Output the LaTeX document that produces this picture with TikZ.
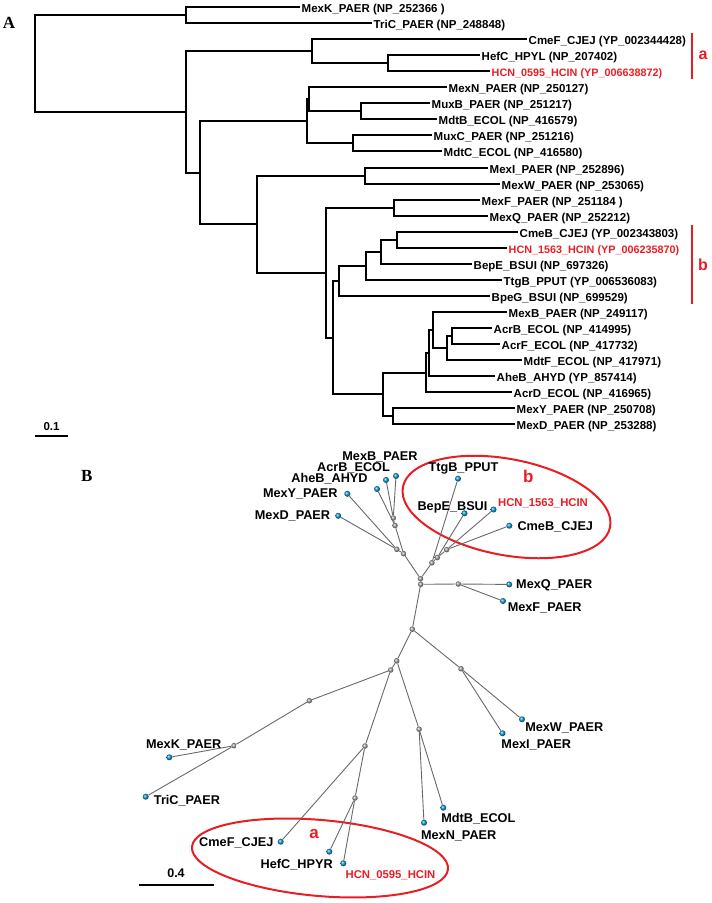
\documentclass[tikz,border=0pt]{standalone}
\usepackage{fontspec}
\setmainfont{Liberation Sans}
\newfontfamily\serifb{Liberation Serif}
\definecolor{redlbl}{RGB}{232,30,36}
\definecolor{blueball}{RGB}{10,150,210}
\definecolor{edgegray}{RGB}{105,105,105}
\begin{document}
\begin{tikzpicture}[x=1pt,y=-1pt,
 tree/.style={line width=2pt},
 lab/.style={anchor=west, inner sep=1.5pt, font=\fontsize{11.5}{13}\selectfont\bfseries, text height=11pt, text depth=0pt},
 labred/.style={lab, text=redlbl, font=\fontsize{10.8}{13}\selectfont\bfseries},
 blab/.style={inner sep=0pt, font=\fontsize{12.7}{14}\selectfont\bfseries, text height=9.1pt, text depth=0pt},
 blabred/.style={blab, text=redlbl, font=\fontsize{11.3}{14}\selectfont\bfseries},
 leafball/.style={circle, inner sep=0pt, minimum size=6pt, ball color=blueball},
 intball/.style={circle, inner sep=0pt, minimum size=5.5pt, ball color=gray!75},
 bedge/.style={draw=edgegray, line width=0.9pt},
 panel/.style={font=\serifb\fontsize{17}{17}\selectfont\bfseries, inner sep=0pt},
 grp/.style={text=redlbl, font=\fontsize{16}{16}\selectfont\bfseries, inner sep=0pt},
 bracket/.style={draw=redlbl, line width=2pt},
 oval/.style={draw=redlbl, line width=2pt},
 sbar/.style={line width=2pt},
 sbtext/.style={font=\fontsize{11.5}{12}\selectfont\bfseries, inner sep=0pt}
]
\useasboundingbox (0,0) rectangle (712,903);

% ---------------- Panel A ----------------
\node[panel] (pA) at (9,23) {A};

% leaf end points and labels
\foreach \n/\x/\y/\t in {
 MexK/300/7/{MexK\_PAER (NP\_252366 )},
 TriC/372/23.05/{TriC\_PAER (NP\_248848)},
 CmeF/527/39.1/{CmeF\_CJEJ (YP\_002344428)},
 HefC/480/55.15/{HefC\_HPYL (NP\_207402)},
 MexN/447/87.25/{MexN\_PAER (NP\_250127)},
 MuxB/430/103.3/{MuxB\_PAER (NP\_251217)},
 MdtB/437/119.35/{MdtB\_ECOL (NP\_416579)},
 MuxC/432/135.4/{MuxC\_PAER (NP\_251216)},
 MdtC/442/151.45/{MdtC\_ECOL (NP\_416580)},
 MexI/488/167.5/{MexI\_PAER (NP\_252896)},
 MexW/500/183.55/{MexW\_PAER (NP\_253065)},
 MexF/480/199.6/{MexF\_PAER (NP\_251184 )},
 MexQ/488/215.65/{MexQ\_PAER (NP\_252212)},
 CmeB/518/231.7/{CmeB\_CJEJ (YP\_002343803)},
 BepE/472/263.8/{BepE\_BSUI (NP\_697326)},
 TtgB/502/279.85/{TtgB\_PPUT (YP\_006536083)},
 BpeG/490/295.9/{BpeG\_BSUI (NP\_699529)},
 MexB/507/311.95/{MexB\_PAER (NP\_249117)},
 AcrB/492/328/{AcrB\_ECOL (NP\_414995)},
 AcrF/500/344.05/{AcrF\_ECOL (NP\_417732)},
 MdtF/522/360.1/{MdtF\_ECOL (NP\_417971)},
 AheB/495/376.15/{AheB\_AHYD (YP\_857414)},
 AcrD/512/392.2/{AcrD\_ECOL (NP\_416965)},
 MexY/515/408.25/{MexY\_PAER (NP\_250708)},
 MexD/515/424.3/{MexD\_PAER (NP\_253288)}}
{
 \coordinate (e\n) at (\x,\y);
 \node[lab] (l\n) at (e\n) {\t};
}
\coordinate (eHCNa) at (490,71.2);
\node[labred] (lHCNa) at (eHCNa) {HCN\_0595\_HCIN (YP\_006638872)};
\coordinate (eHCNb) at (507,247.75);
\node[labred] (lHCNb) at (eHCNb) {HCN\_1563\_HCIN (YP\_006235870)};

% internal nodes
\coordinate (root) at (35,63.48);
\coordinate (nK) at (186,15.03);
\coordinate (n2) at (186,111.93);
\coordinate (nA) at (312,51.14);
\coordinate (nH) at (388,63.18);
\coordinate (n3) at (200,172.72);
\coordinate (n4) at (307,121.36);
\coordinate (n4a) at (309,99.29);
\coordinate (nM1) at (361,111.33);
\coordinate (nM2) at (353,143.43);
\coordinate (n5) at (257,224.09);
\coordinate (nI) at (365,175.53);
\coordinate (n6) at (326,272.64);
\coordinate (nF) at (394,207.63);
\coordinate (n7) at (333,337.66);
\coordinate (n8) at (339,280.85);
\coordinate (n9) at (366,265.8);
\coordinate (n10) at (381,251.76);
\coordinate (n11) at (397,239.73);
\coordinate (n12) at (383,394.46);
\coordinate (n13) at (393,416.28);
\coordinate (n14) at (426,372.64);
\coordinate (n15) at (429,353.08);
\coordinate (n16) at (433,330.0);
\coordinate (n17) at (447,348.06);
\coordinate (n18) at (452,336.03);

\foreach \p/\c in {root/nK, root/n2, nK/eMexK, nK/eTriC, n2/nA, n2/n3,
 nA/eCmeF, nA/nH, nH/eHefC, nH/eHCNa, n3/n4, n3/n5, n4/n4a, n4/nM2,
 n4a/eMexN, n4a/nM1, nM1/eMuxB, nM1/eMdtB, nM2/eMuxC, nM2/eMdtC,
 n5/nI, n5/n6, nI/eMexI, nI/eMexW, n6/nF, n6/n7, nF/eMexF, nF/eMexQ,
 n7/n8, n7/n12, n8/n9, n8/eBpeG, n9/n10, n9/eTtgB, n10/n11, n10/eBepE,
 n11/eCmeB, n11/eHCNb, n12/n14, n12/n13, n13/eMexY, n13/eMexD,
 n14/n15, n14/eAcrD, n15/n16, n15/eAheB, n16/eMexB, n16/n17,
 n17/n18, n17/eMdtF, n18/eAcrB, n18/eAcrF}
 \draw[tree] (\p) |- (\c);

% group brackets
\coordinate (ba1) at (692,33);
\coordinate (ba2) at (692,79);
\draw[bracket] (ba1) -- (ba2);
\node[grp] (ga) at (703,55) {a};
\coordinate (bb1) at (692,225);
\coordinate (bb2) at (692,304);
\draw[bracket] (bb1) -- (bb2);
\node[grp] (gb) at (703,265) {b};

% scale bar A
\coordinate (sa1) at (35,436);
\coordinate (sa2) at (68,436);
\draw[sbar] (sa1) -- (sa2);
\node[sbtext] (sta) at (51.5,427) {0.1};

% ---------------- Panel B ----------------
\node[panel] (pB) at (86.7,476) {B};

% ovals
\coordinate (cb) at (506.5,507);
\draw[oval, rotate around={-11:(cb)}] (cb) ellipse (105.5pt and 48pt);
\coordinate (ca) at (320,858);
\draw[oval, rotate around={-5:(ca)}] (ca) ellipse (128.5pt and 38pt);
\node[grp, font=\fontsize{17}{17}\selectfont\bfseries] (ob) at (528.3,476.7) {b};
\node[grp, font=\fontsize{17}{17}\selectfont\bfseries] (oa) at (314,834) {a};

% internal nodes
\foreach \n/\x/\y in {g16/393.3/518, gAhe/395/525.5, g13/396.8/549.3, g12/403.6/553.7,
 g7/420.5/578.7, g6/420.7/584.3, g9/431.9/562.8, g10/437.3/557.5, g11/446.7/549.6,
 gF/458.3/584, g5/412.3/629.2, gI/461/668.7, g3/396.7/660.8, g2/390.7/670,
 gR/309.3/700.7, gK/234/745.7, g4/419.1/729.2, gA/365/746, gH/355/798}
 \node[intball] (\n) at (\x,\y) {};

% leaves
\foreach \n/\x/\y in {bMexB/396/476, bAcrB/386/480, bAheB/377/489, bMexY/347.3/493.8,
 bMexD/338.2/515.8, bTtgB/458/478.7, bBepE/464.5/513.3, bHCNb/493.5/509.5,
 bCmeB/509.3/525.7, bMexQ/509.2/584.4, bMexF/503/601, bMexW/522/719.3,
 bMexI/502.5/733.3, bMdtB/443.3/807.7, bMexN/424/822.7, bMexK/169.3/757.3,
 bTriC/145.7/796.7, bCmeF/280.7/841.7, bHefC/329.3/851.7, bHCNa/343.3/863.3}
 \node[leafball] (\n) at (\x,\y) {};

% edges
\foreach \a/\b in {g16/bMexB, g16/bAcrB, gAhe/g16, gAhe/bAheB, g12/gAhe, g12/g13,
 g13/bMexY, g13/bMexD, g7/g12, g7/g9, g7/g6, g9/bTtgB, g9/g10, g10/bBepE, g10/g11,
 g11/bHCNb, g11/bCmeB, g6/gF, gF/bMexQ, gF/bMexF, g6/g5, g5/gI, gI/bMexW, gI/bMexI,
 g5/g3, g3/g4, g4/bMdtB, g4/bMexN, g3/g2, g2/gR, gR/gK, gK/bMexK, gK/bTriC,
 g2/gA, gA/bCmeF, gA/gH, gH/bHefC, gH/bHCNa}
 \draw[bedge] (\a) -- (\b);

% labels
\foreach \n/\x/\y/\t in {
 tMexB/380/456/MexB\_PAER, tAcrB/353.5/466.7/AcrB\_ECOL, tAheB/329.5/478/AheB\_AHYD,
 tMexY/300.3/493/MexY\_PAER, tMexD/292.5/515/MexD\_PAER, tTtgB/463.5/466.7/TtgB\_PPUT,
 tBepE/452.5/506/BepE\_BSUI, tCmeB/555.3/526/CmeB\_CJEJ, tMexQ/554.2/584.3/MexQ\_PAER,
 tMexF/544.7/606.7/MexF\_PAER, tMexW/564.3/727.3/MexW\_PAER, tMexI/536.3/744/MexI\_PAER,
 tMdtB/478.3/818.3/MdtB\_ECOL, tMexN/458.7/835/MexN\_PAER, tMexK/183.7/744.3/MexK\_PAER,
 tTriC/187/800/TriC\_PAER, tCmeF/236.3/841.7/CmeF\_CJEJ, tHefC/296.7/864/HefC\_HPYR}
 \node[blab] (\n) at (\x,\y) {\t};
\node[blabred] (tHCNb) at (543,502) {HCN\_1563\_HCIN};
\node[blabred] (tHCNa) at (390.5,874.3) {HCN\_0595\_HCIN};

% scale bar B
\coordinate (sb1) at (139.3,885);
\coordinate (sb2) at (214.3,885);
\draw[sbar] (sb1) -- (sb2);
\node[sbtext, font=\fontsize{12.5}{13}\selectfont\bfseries] (stb) at (176,873.3) {0.4};
\end{tikzpicture}
\end{document}
